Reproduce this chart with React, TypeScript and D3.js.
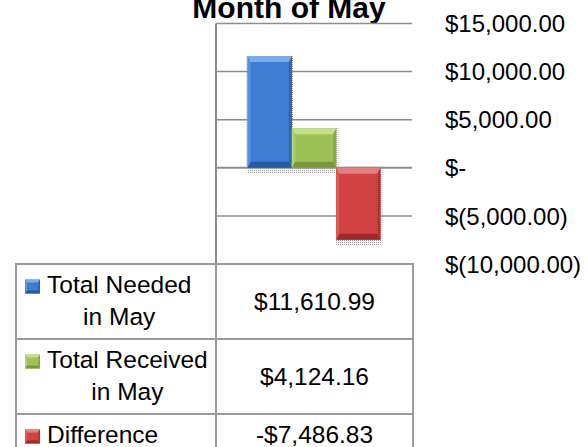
import React, { useEffect, useRef } from "react";
import * as d3 from "d3";

const title = "Month of May";
const category = "May";
const seriesNames = ["Total Needed in May", "Total Received in May", "Difference"];
const seriesLabelLines = [["Total Needed", "in May"], ["Total Received", "in May"], ["Difference"]];
const seriesValues = [11610.99, 4124.16, -7486.83];
const tickValues = [15000, 10000, 5000, 0, -5000, -10000];

const palettes = [
  { face: "#3d7dd2", top: "#7cabea", left: "#5a91dc", right: "#2d66b5", bottom: "#265aa3" },
  { face: "#9ec255", top: "#c6df8c", left: "#b0d06e", right: "#88a944", bottom: "#789739" },
  { face: "#d24343", top: "#e67e7e", left: "#dc5858", right: "#b33232", bottom: "#9c2a2a" },
];

const W = 588;
const H = 447;
const FONT = "'Liberation Sans', Arial, sans-serif";

function fmtAxis(v: number) {
  if (v === 0) return "$-";
  const s = d3.format(",.2f")(Math.abs(v));
  return v < 0 ? `$(${s})` : `$${s}`;
}
function fmtValue(v: number) {
  const s = d3.format(",.2f")(Math.abs(v));
  return v < 0 ? `-$${s}` : `$${s}`;
}

function bevelBar(g: any, x: number, y: number, w: number, h: number, p: any, bt: number, bs: number) {
  const x1 = x + w, y1 = y + h;
  g.append("rect").attr("x", x).attr("y", y).attr("width", w).attr("height", h).attr("fill", p.face);
  const poly = (pts: number[][], fill: string) =>
    g.append("polygon").attr("points", pts.map((q) => q.join(",")).join(" ")).attr("fill", fill);
  poly([[x, y], [x1, y], [x1 - bs, y + bt], [x + bs, y + bt]], p.top);
  poly([[x, y1], [x1, y1], [x1 - bs, y1 - bt], [x + bs, y1 - bt]], p.bottom);
  poly([[x, y], [x + bs, y + bt], [x + bs, y1 - bt], [x, y1]], p.left);
  poly([[x1, y], [x1 - bs, y + bt], [x1 - bs, y1 - bt], [x1, y1]], p.right);
}

export default function App() {
  const ref = useRef<SVGSVGElement>(null);

  useEffect(() => {
    const svg = d3.select(ref.current);
    svg.selectAll("*").remove();

    const plotLeft = 216, plotRight = 412, plotTop = 23.5, plotBottom = 264;
    const y = d3.scaleLinear().domain([-10000, 15000]).range([plotBottom, plotTop]);
    const xCat = d3.scaleBand().domain([category]).range([plotLeft, plotRight]).paddingOuter(0.237).paddingInner(0);
    const xSer = d3.scaleBand().domain(seriesNames).range([0, xCat.bandwidth()]).padding(0);

    const defs = svg.append("defs");
    const pat = defs.append("pattern").attr("id", "dots").attr("width", 2).attr("height", 2).attr("patternUnits", "userSpaceOnUse");
    pat.append("rect").attr("width", 1).attr("height", 1).attr("fill", "#9a9a9a");

    // title
    svg.append("text").attr("x", 289).attr("y", 18).attr("text-anchor", "middle")
      .attr("font-family", FONT).attr("font-weight", "bold").attr("font-size", 30).attr("fill", "#000").text(title);

    // gridlines
    svg.append("g").selectAll("line").data(tickValues.filter((t) => t > -10000)).join("line")
      .attr("x1", plotLeft).attr("x2", plotRight).attr("y1", (d) => y(d)).attr("y2", (d) => y(d))
      .attr("stroke", "#8c8c8c").attr("stroke-width", (d) => (d === 0 ? 2 : 1.5));

    // axis labels
    svg.append("g").selectAll("text").data(tickValues).join("text")
      .attr("x", 445).attr("y", (d) => y(d) + 8.6)
      .attr("font-family", FONT).attr("font-size", 24).attr("fill", "#000").text((d) => fmtAxis(d));

    // bars
    const bars = svg.append("g");
    seriesValues.forEach((v, i) => {
      const bx = (xCat(category) as number) + (xSer(seriesNames[i]) as number);
      const bw = xSer.bandwidth();
      const y0 = y(Math.max(0, v));
      const y1 = y(Math.min(0, v));
      bars.append("rect").attr("x", bx - 1).attr("y", y0 - 1).attr("width", bw + 3).attr("height", y1 - y0 + 7)
        .attr("fill", "url(#dots)");
    });
    seriesValues.forEach((v, i) => {
      const bx = (xCat(category) as number) + (xSer(seriesNames[i]) as number);
      const bw = xSer.bandwidth();
      const y0 = y(Math.max(0, v));
      const y1 = y(Math.min(0, v));
      bevelBar(bars, bx, y0, bw, y1 - y0, palettes[i], 6, 3);
    });

    // vertical axis line
    svg.append("line").attr("x1", plotLeft).attr("x2", plotLeft).attr("y1", plotTop).attr("y2", plotBottom)
      .attr("stroke", "#8c8c8c").attr("stroke-width", 2);

    // data table
    const tLeft = 16, tRight = 413;
    const rowTops = [264, 339, 414];
    const rowH = [75, 75, 40];
    const tg = svg.append("g");
    const border = "#9a9a9a";
    rowTops.forEach((rt, i) => {
      tg.append("rect").attr("x", tLeft).attr("y", rt).attr("width", plotLeft - tLeft).attr("height", rowH[i])
        .attr("fill", "none").attr("stroke", border).attr("stroke-width", 2);
      tg.append("rect").attr("x", plotLeft).attr("y", rt).attr("width", tRight - plotLeft).attr("height", rowH[i])
        .attr("fill", "none").attr("stroke", border).attr("stroke-width", 2);
    });

    seriesLabelLines.forEach((lines, i) => {
      const rt = rowTops[i];
      const base1 = rt + 28.5;
      bevelBar(tg, 25, base1 - 13, 15, 14, palettes[i], 3, 2);
      const textStart = 47;
      const t1 = tg.append("text").attr("x", textStart).attr("y", base1)
        .attr("font-family", FONT).attr("font-size", 24.5).attr("fill", "#000").text(lines[0]);
      const w1 = (t1.node() as SVGTextElement).getComputedTextLength();
      if (lines.length > 1) {
        tg.append("text").attr("x", textStart + w1 / 2).attr("y", base1 + 32).attr("text-anchor", "middle")
          .attr("font-family", FONT).attr("font-size", 24.5).attr("fill", "#000").text(lines[1]);
      }
      const vy = lines.length > 1 ? rt + 37.5 + 8.7 : base1;
      tg.append("text").attr("x", (plotLeft + tRight) / 2).attr("y", vy).attr("text-anchor", "middle")
        .attr("font-family", FONT).attr("font-size", 24.5).attr("fill", "#000").text(fmtValue(seriesValues[i]));
    });
  }, []);

  return (
    <svg ref={ref} width={W} height={H} style={{ position: "absolute", left: 0, top: 0, background: "#fff" }} />
  );
}
